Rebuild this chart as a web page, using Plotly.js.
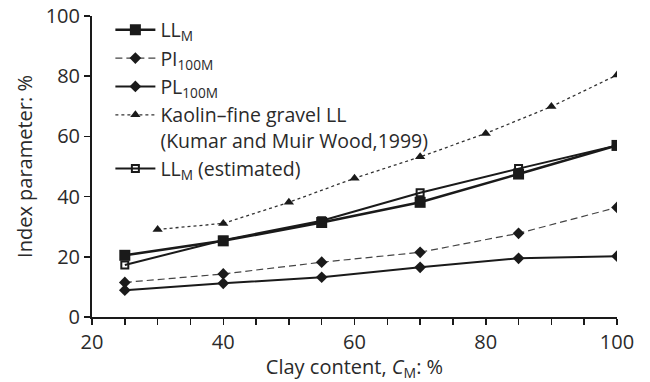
<!DOCTYPE html>
<html><head><meta charset="utf-8">
<script src="https://cdn.plot.ly/plotly-3.0.1.min.js"></script>
<style>html,body{margin:0;padding:0;background:#fff}</style>
</head><body><div id="chart" style="width:650px;height:382px"></div>
<script>
const clayX = [25, 40, 55, 70, 85, 100];
const llM = [20.5, 25.3, 31.4, 38.1, 47.5, 57.0];
const pi100M = [11.5, 14.3, 18.2, 21.5, 27.8, 36.4];
const pl100M = [8.9, 11.2, 13.2, 16.5, 19.5, 20.2];
const kaolinX = [30, 40, 50, 60, 70, 80, 90, 100];
const kaolinLL = [29.1, 31.1, 38.1, 46.1, 53.2, 61.0, 69.9, 80.4];
const llEst = [17.3, 25.5, 32.0, 41.3, 49.3, 57.0];

const names = ['LL<sub>M</sub>', 'PI<sub>100M</sub>', 'PL<sub>100M</sub>',
  'Kaolin–fine gravel LL<br>(Kumar and Muir Wood,1999)', 'LL<sub>M</sub> (estimated)'];

const ink = '#1a1a1a';
const traces = [
  {x: clayX, y: llM, name: names[0], mode: 'lines+markers',
   line: {color: ink, width: 2.5}, marker: {symbol: 'square', size: 11, color: ink}},
  {x: clayX, y: pi100M, name: names[1], mode: 'lines+markers',
   line: {color: '#444', width: 1.2, dash: '7px,4px'}, marker: {symbol: 'diamond', size: 9, color: ink}},
  {x: clayX, y: pl100M, name: names[2], mode: 'lines+markers',
   line: {color: ink, width: 2}, marker: {symbol: 'diamond', size: 9, color: ink}},
  {x: kaolinX, y: kaolinLL, name: names[3], mode: 'lines+markers',
   line: {color: '#333', width: 1.3, dash: 'dot'}, marker: {symbol: 'triangle-up', size: 9, color: ink}},
  {x: clayX, y: llEst, name: names[4], mode: 'lines+markers',
   line: {color: ink, width: 2}, marker: {symbol: 'square-open', size: 7, color: ink, line: {width: 2, color: ink}}}
];

const fontFam = '"Open Sans", "Noto Sans", sans-serif';
const txt = '#2a2a2a';
const layout = {
  width: 650, height: 382,
  margin: {l: 92, r: 33, t: 16, b: 65, autoexpand: false},
  paper_bgcolor: '#fff', plot_bgcolor: '#fff',
  font: {family: fontFam, color: txt, size: 19},
  showlegend: true,
  legend: {x: 0.035, y: 1.018, xanchor: 'left', yanchor: 'top', bgcolor: 'rgba(0,0,0,0)',
           font: {size: 19.5, family: fontFam, color: txt}, valign: 'top', tracegroupgap: 0, itemwidth: 40},
  xaxis: {range: [20, 100], dtick: 20, tick0: 20, ticks: 'outside', ticklen: 6, tickwidth: 1.5, tickcolor: ink,
          minor: {dtick: 5, ticks: 'outside', ticklen: 6, tickwidth: 1.5, tickcolor: ink},
          showline: true, linecolor: ink, linewidth: 2, showgrid: false, zeroline: false,
          tickfont: {size: 20}, title: {text: 'Clay content, <i>C</i><sub>M</sub>: %', font: {size: 20}, standoff: 5}},
  yaxis: {range: [0, 100], dtick: 20, ticks: 'outside', ticklen: 6, tickwidth: 1.5, tickcolor: ink,
          showline: true, linecolor: ink, linewidth: 2, showgrid: false, zeroline: false,
          tickfont: {size: 20}, title: {text: 'Index parameter: %', font: {size: 20}, standoff: 8}}
};
Plotly.newPlot('chart', traces, layout, {displayModeBar: false, staticPlot: true});
</script></body></html>
